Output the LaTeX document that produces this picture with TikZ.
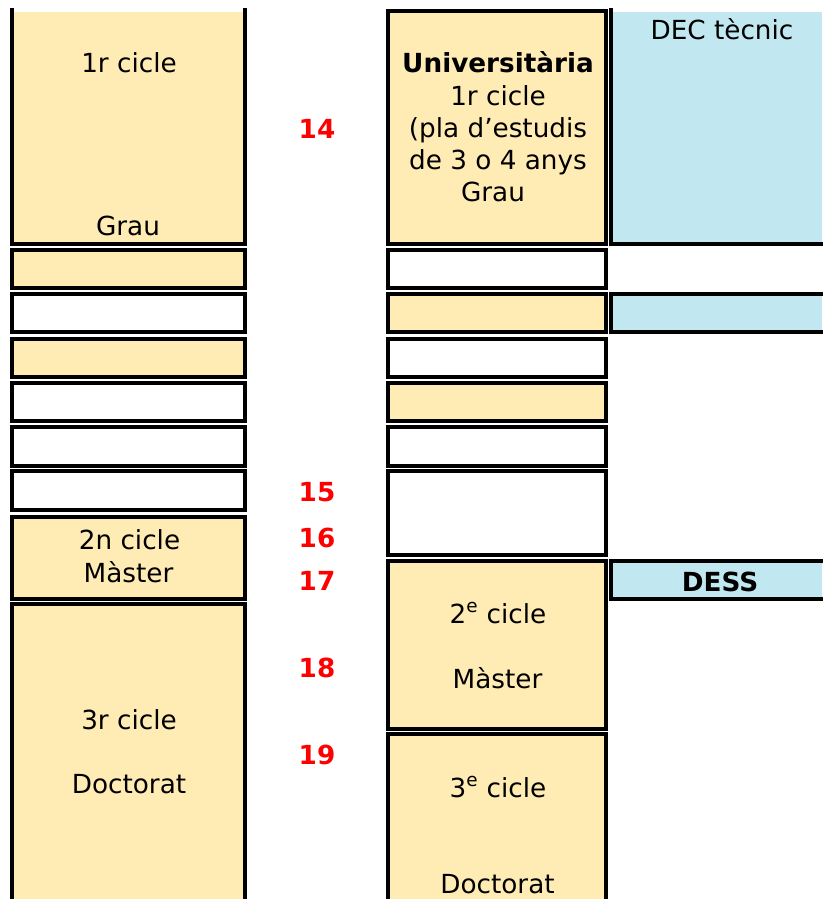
\documentclass[tikz,border=0pt]{standalone}
\usepackage{fontspec}
\setmainfont{DejaVu Sans}
\definecolor{cellYellow}{RGB}{255,236,180}
\definecolor{cellBlue}{RGB}{193,232,240}
\definecolor{numRed}{RGB}{255,0,0}
\tikzset{every picture/.style={line width=0.75pt},
  cellY/.style={draw=black,line width=2.4pt,fill=cellYellow},
  cellW/.style={draw=black,line width=2.4pt,fill=white},
  cellB/.style={draw=black,line width=2.4pt,fill=cellBlue},
  edge/.style={draw=black,line width=2.4pt},
  txt/.style={anchor=base,inner sep=0pt,font=\fontsize{19.7}{24}\selectfont},
  num/.style={inner sep=0pt,text=numRed,font=\fontsize{19.7}{24}\selectfont\bfseries}}

\begin{document}
\begin{tikzpicture}[x=0.75pt,y=0.75pt,yscale=-1,xscale=1]
	\useasboundingbox (0,0) rectangle (822,899);

	%Shape: Rectangle [left column, open top]
	\fill [cellYellow] (12,12) rectangle (245,244);
	\draw [edge] (12,8) -- (12,244) -- (245,244) -- (245,8);
	%Shape: Rectangle [left column rows]
	\draw [cellY] (12,250) rectangle (245,288);
	\draw [cellW] (12,294) rectangle (245,332);
	\draw [cellY] (12,339) rectangle (245,377);
	\draw [cellW] (12,383) rectangle (245,421);
	\draw [cellW] (12,427) rectangle (245,466);
	\draw [cellW] (12,471) rectangle (245,510);
	\draw [cellY] (12,517) rectangle (245,599);
	%Shape: Rectangle [left column, open bottom]
	\fill [cellYellow] (12,604) rectangle (245,899);
	\draw [edge] (12,900) -- (12,604) -- (245,604) -- (245,900);

	%Shape: Rectangle [middle column]
	\draw [cellY] (388,11) rectangle (606,244);
	\draw [cellW] (388,250) rectangle (606,288);
	\draw [cellY] (388,294) rectangle (606,332);
	\draw [cellW] (388,339) rectangle (606,377);
	\draw [cellY] (388,383) rectangle (606,421);
	\draw [cellW] (388,427) rectangle (606,466);
	\draw [cellW] (388,471) rectangle (606,555);
	\draw [cellY] (388,561) rectangle (606,729);
	%Shape: Rectangle [middle column, open bottom]
	\fill [cellYellow] (388,734) rectangle (606,899);
	\draw [edge] (388,900) -- (388,734) -- (606,734) -- (606,900);

	%Shape: Rectangle [right column, open top and right]
	\fill [cellBlue] (611,12) rectangle (822,244);
	\draw [edge] (611,8) -- (611,244) -- (823,244);
	%Shape: Rectangle [right column, open right]
	\fill [cellBlue] (611,294) rectangle (822,332);
	\draw [edge] (823,294) -- (611,294) -- (611,332) -- (823,332);
	\fill [cellBlue] (611,561) rectangle (822,599);
	\draw [edge] (823,561) -- (611,561) -- (611,599) -- (823,599);

	% Text Node
	\node [txt] (l1a) at (129,73) {1r cicle};
	\node [txt] (l1b) at (128,235) {Grau};
	\node [txt] (l2a) at (129.5,549) {2n cicle};
	\node [txt] (l2b) at (128.5,582) {Màster};
	\node [txt] (l3a) at (129,729) {3r cicle};
	\node [txt] (l3b) at (129,793) {Doctorat};
	% Text Node
	\node [txt,font=\fontsize{19.7}{24}\selectfont\bfseries] (m1a) at (498,73) {Universitària};
	\node [txt] (m1b) at (498,105) {1r cicle};
	\node [txt] (m1c) at (498,137) {(pla d’estudis};
	\node [txt] (m1d) at (498,169) {de 3 o 4 anys};
	\node [txt] (m1e) at (493,201) {Grau};
	\node [txt] (m2a) at (498,623) {2\textsuperscript{e} cicle};
	\node [txt] (m2b) at (497.5,688) {Màster};
	\node [txt] (m3a) at (498,797) {3\textsuperscript{e} cicle};
	\node [txt] (m3b) at (497.5,893) {Doctorat};
	% Text Node
	\node [txt] (r1) at (722,40) {DEC tècnic};
	\node [txt,font=\fontsize{19.7}{24}\selectfont\bfseries] (r3) at (720,591) {DESS};

	% Text Node
	\node [num] (n14) at (317,129) {14};
	\node [num] (n15) at (317,492) {15};
	\node [num] (n16) at (317,538) {16};
	\node [num] (n17) at (317,581) {17};
	\node [num] (n18) at (317,668) {18};
	\node [num] (n19) at (317,755) {19};

\end{tikzpicture}
\end{document}
